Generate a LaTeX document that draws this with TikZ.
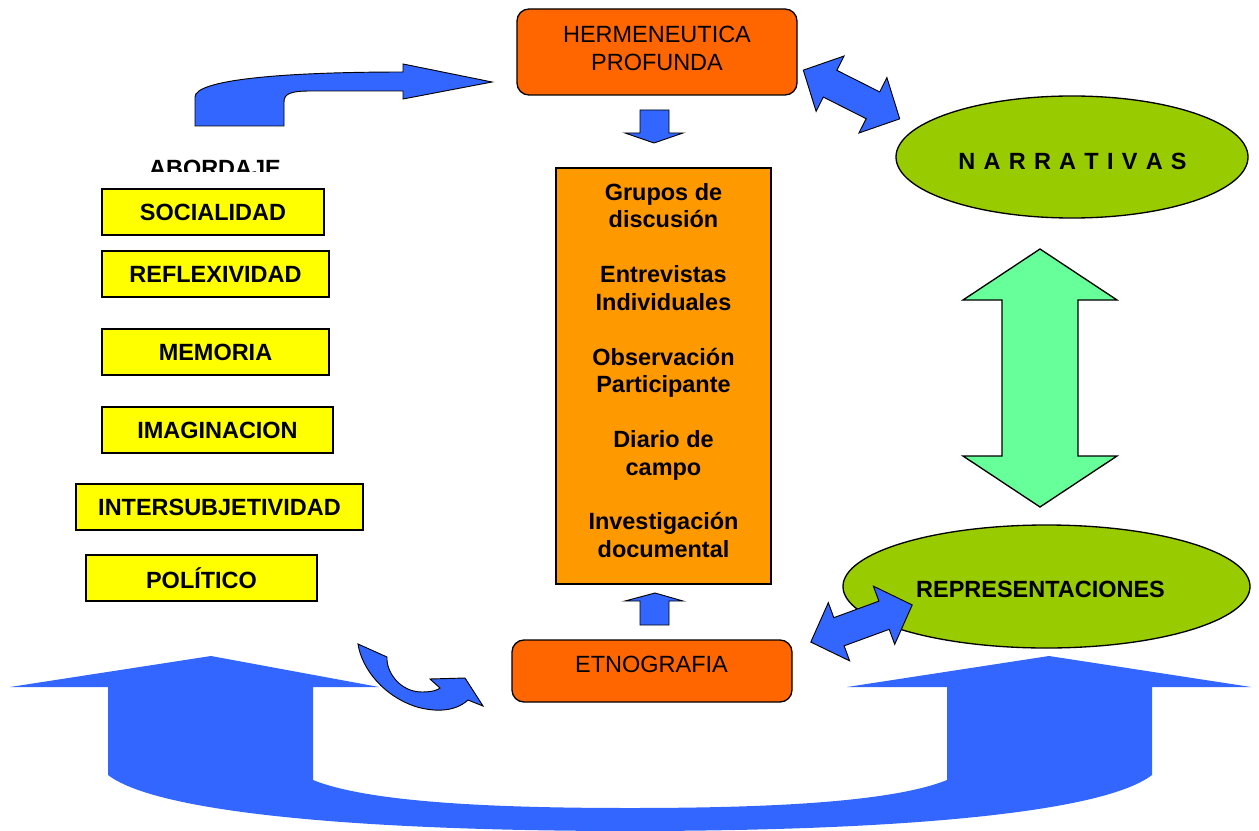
\documentclass[tikz,border=0pt]{standalone}
\usepackage{fontspec}
\usetikzlibrary{shapes.geometric}
\setmainfont{Liberation Sans}
\definecolor{darkorange}{HTML}{FF6600}
\definecolor{lightorange}{HTML}{FF9900}
\definecolor{boxyellow}{HTML}{FFFF00}
\definecolor{ellgreen}{HTML}{99CC00}
\definecolor{mint}{HTML}{66FF99}
\definecolor{arrowblue}{HTML}{3366FF}
\begin{document}
\begin{tikzpicture}[x=0.75pt,y=-0.75pt,
  lbl/.style={font=\fontsize{17.6}{20.6}\selectfont, inner sep=0pt, align=center},
  blbl/.style={font=\bfseries\fontsize{17.6}{20.6}\selectfont, inner sep=0pt, align=center},
  ybox/.style={draw=black, line width=1pt, fill=boxyellow, minimum height=34.5pt, inner sep=0pt,
    font=\bfseries\fontsize{17.6}{20.6}\selectfont},
  rbox/.style={draw=black, line width=1pt, fill=darkorange, rounded corners=9pt, inner sep=0pt},
  ell/.style={draw=black, line width=1pt, fill=ellgreen, ellipse, inner sep=0pt},
  barrow/.style={draw=black, line width=0.7pt, fill=arrowblue, line join=miter},
  dblarr/.pic={\path[barrow] (-54,0) -- (-24,31) -- (-24,15) -- (24,15) -- (24,31) -- (54,0)
     -- (24,-31) -- (24,-15) -- (-24,-15) -- (-24,-31) -- cycle;}
]
\useasboundingbox (0,0) rectangle (1259,831);

% big U arrow (background)
\fill[arrowblue] (10,687) -- (211,656) -- (379,687) -- (313,687) -- (313,780)
  .. controls (370,803) and (500,808) .. (630,808)
  .. controls (760,808) and (890,803) .. (947,780)
  -- (947,687) -- (847,687) -- (1049,656) -- (1251,687) -- (1152,687) -- (1152,775)
  .. controls (1100,815) and (880,831) .. (630,831)
  .. controls (380,831) and (160,815) .. (108,775)
  -- (108,687) -- cycle;

% top-left curved arrow
\path[barrow] (195,126) -- (195,97) .. controls (195,80) and (280,72) .. (403,72)
  -- (403,64) -- (492,82) -- (403,99) -- (403,91) -- (310,91)
  .. controls (290,91) and (284,94) .. (284,102) -- (284,126) -- cycle;

% curved arrow into ETNOGRAFIA
\path[barrow] (358,644) -- (387,657) .. controls (386,672) and (400,692) .. (422,692)
  .. controls (432,692) and (438,690) .. (440,688) -- (430,679) -- (465,678) -- (483,706)
  -- (468,700) .. controls (455,712) and (435,712) .. (417,707)
  .. controls (385,697) and (362,670) .. (358,644) -- cycle;

% nodes
\node[rbox, minimum width=210pt, minimum height=64.5pt] (herm) at (657,52) {};
\node[lbl] (hermtext) at (657,48.5) {HERMENEUTICA\\PROFUNDA};

\node[draw=black, line width=1pt, fill=lightorange, minimum width=161.25pt, minimum height=312pt,
  inner sep=0pt] (methods) at (663.5,376) {};
\node[blbl] (methodstext) at (663.5,370.5) {Grupos de\\discusión\\[20.6pt]Entrevistas\\Individuales\\[20.6pt]Observación\\Participante\\[20.6pt]Diario de\\campo\\[20.6pt]Investigación\\documental};

\node[rbox, minimum width=210pt, minimum height=46.5pt] (etno) at (652,671) {};
\node[lbl] (etnotext) at (651.5,664) {ETNOGRAFIA};

\node[ell, minimum width=264pt, minimum height=91.5pt] (narr) at (1072,157) {};
\node[blbl] (narrtext) at (1072.5,161.5) {{\spaceskip=6.2pt N A R R A T I V A S}};

\node[ell, minimum width=305.25pt, minimum height=92.25pt] (repr) at (1046.5,586.5) {};
\node[blbl] (reprtext) at (1040.5,589) {REPRESENTACIONES};

% small vertical arrows
\path[barrow] (640,110) -- (669,110) -- (669,133) -- (683,133) -- (654,143) -- (625,133) -- (640,133) -- cycle;
\path[barrow] (640,625) -- (669,625) -- (669,601) -- (683,601) -- (655,593) -- (625,601) -- (640,601) -- cycle;

% double arrows
\pic[rotate=-26.8] at (851.5,94.5) {dblarr};
\pic[rotate=20.1] at (861.5,623.5) {dblarr};

% green double arrow
\path[draw=black, line width=1pt, fill=mint] (1040,249) -- (1117,300) -- (1078,300) -- (1078,456)
  -- (1117,456) -- (1040,507) -- (963,456) -- (1002,456) -- (1002,300) -- (963,300) -- cycle;

% ABORDAJE (clipped)
\begin{scope}
\clip (0,0) rectangle (1259,172);
\node[blbl] (abordaje) at (215,168.5) {ABORDAJE};
\end{scope}

% yellow boxes
\node[ybox, minimum width=166.5pt] (soc) at (213,212) {SOCIALIDAD};
\node[ybox, minimum width=170.25pt] (refl) at (215.5,274) {REFLEXIVIDAD};
\node[ybox, minimum width=170.25pt] (mem) at (215.5,352) {MEMORIA};
\node[ybox, minimum width=173.25pt] (imag) at (217.5,430) {IMAGINACION};
\node[ybox, minimum width=215.25pt] (inter) at (219.5,507) {INTERSUBJETIVIDAD};
\node[ybox, minimum width=173.25pt] (pol) at (201.5,578) {POLÍTICO};
\end{tikzpicture}
\end{document}
